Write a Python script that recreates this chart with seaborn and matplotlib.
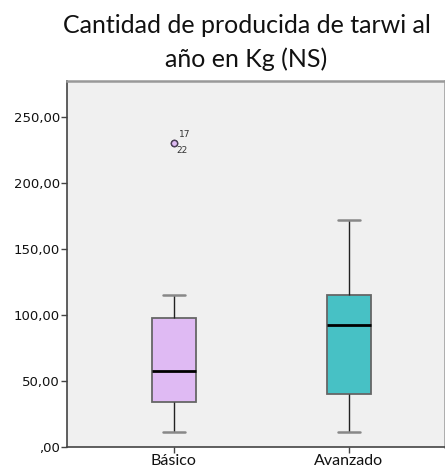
import numpy as np
import pandas as pd
import seaborn as sns
import matplotlib
matplotlib.use("Agg")
import matplotlib.pyplot as plt

# Production of tarwi per year (kg) by training level
groups = ["Básico", "Avanzado"]
basico_kg = [11.5, 34.3, 34.3, 34.3, 57.6, 57.6, 57.6, 97.5, 97.5, 97.5, 115.0, 230.0, 230.0]
avanzado_kg = [11.5, 40.0, 92.0, 115.0, 172.0]
outlier_cases = ["17", "22"]
outlier_value = 230.0

y_ticks = [0, 50, 100, 150, 200, 250]
y_tick_labels = [",00", "50,00", "100,00", "150,00", "200,00", "250,00"]
title_lines = ["Cantidad de producida de tarwi al", "año en Kg (NS)"]

box_colors = ["#DFBAF3", "#47C1C5"]

df = pd.DataFrame({
    "grupo": [groups[0]] * len(basico_kg) + [groups[1]] * len(avanzado_kg),
    "kg": basico_kg + avanzado_kg,
})

sns.set_style("white", {"axes.facecolor": "#F0F0F0"})
plt.rcParams["font.family"] = ["DejaVu Sans"]

fig = plt.figure(figsize=(4.45, 4.72), dpi=100)
ax = fig.add_axes([0.1506, 0.053, 0.8494, 0.775])

sns.boxplot(
    data=df, x="grupo", y="kg", hue="grupo", order=groups, hue_order=groups,
    palette=box_colors, saturation=1, legend=False, width=0.25, dodge=False,
    whis=1.5, ax=ax,
    boxprops=dict(edgecolor="#666666", linewidth=1.3),
    whiskerprops=dict(color="#222222", linewidth=1.0),
    capprops=dict(color="#888888", linewidth=1.8),
    medianprops=dict(color="black", linewidth=2.0),
    flierprops=dict(marker="o", markersize=4.5, markerfacecolor=box_colors[0],
                    markeredgecolor="#4A3F55", markeredgewidth=1.0),
)

# case labels next to the outlier
ax.annotate(outlier_cases[0], xy=(0, outlier_value), xytext=(4, 3),
            textcoords="offset points", fontsize=6.5, color="#333333",
            ha="left", va="bottom")
ax.annotate(outlier_cases[1], xy=(0, outlier_value), xytext=(2, -2),
            textcoords="offset points", fontsize=6.5, color="#333333",
            ha="left", va="top")

ax.set_xlim(-0.61, 1.55)
ax.set_ylim(0, 277)
ax.set_yticks(y_ticks)
ax.set_yticklabels(y_tick_labels, fontsize=9.5, color="#111111")
ax.set_xticks([0, 1])
ax.set_xticklabels(groups, fontsize=11.5, family=["Lato", "DejaVu Sans"], color="#111111")
ax.set_xlabel("")
ax.set_ylabel("")
ax.tick_params(axis="both", direction="out", length=4, width=1, color="#444444",
               left=True, bottom=True, pad=1)

for side in ["left", "bottom"]:
    ax.spines[side].set_color("#444444")
    ax.spines[side].set_linewidth(1.2)
for side in ["top", "right"]:
    ax.spines[side].set_color("#999999")
    ax.spines[side].set_linewidth(1.8)

fig.text(0.556, 1 - 33 / 472, title_lines[0], ha="center", va="baseline",
         fontsize=18, family=["Lato", "DejaVu Sans"], color="#111111")
fig.text(0.553, 1 - 67 / 472, title_lines[1], ha="center", va="baseline",
         fontsize=18, family=["Lato", "DejaVu Sans"], color="#111111")

fig.savefig("out.png", dpi=100, facecolor="white")
